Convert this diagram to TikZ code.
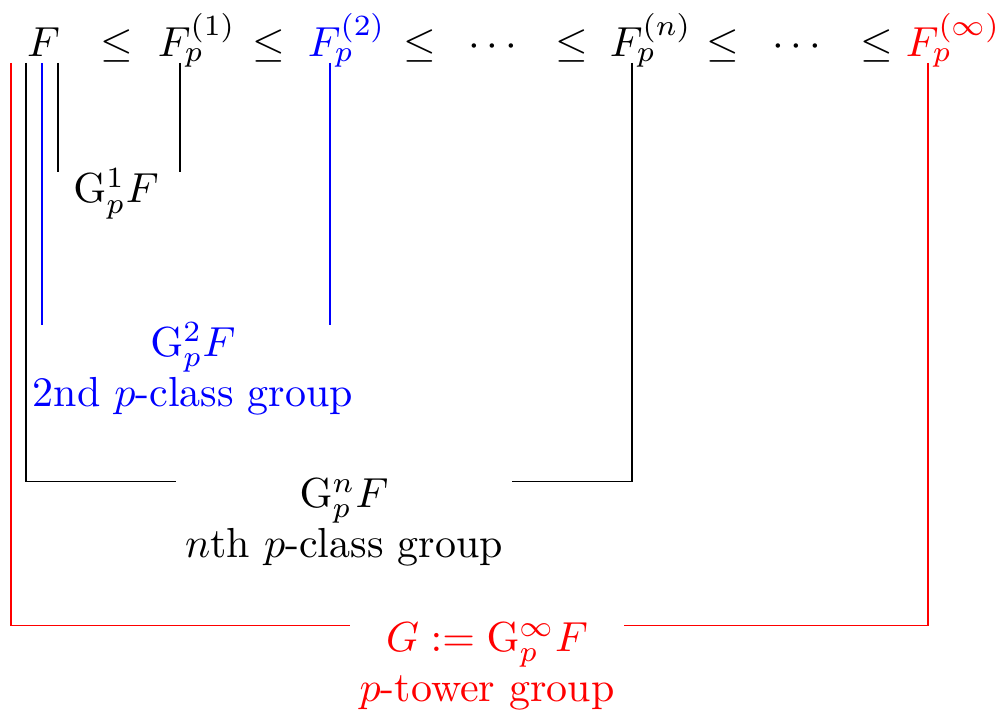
\documentclass[tikz,border=0pt]{standalone}
\usepackage{amsmath}
\usepackage{amssymb}
\usepackage{xcolor}
\usepackage{tikz}
\usetikzlibrary{positioning, calc}

\begin{document}
\begin{tikzpicture}[
  term/.style={anchor=base west, inner sep=0pt},
  rel/.style={anchor=base, inner sep=0pt},
  grouplabel/.style={anchor=base, align=center, inner sep=2pt},
  link/.style={thin}
]
\useasboundingbox (0,0) rectangle (8.327,5.984);

%% Tower of fields
\node[term] (F) at (0.22,5.507) {$F$};
\node[rel] (r1) at (0.979,5.507) {$\le$};
\node[term] (F1) at (1.314,5.507) {$F_p^{(1)}$};
\node[rel] (r2) at (2.251,5.507) {$\le$};
\node[term, blue] (F2) at (2.569,5.507) {$F_p^{(2)}$};
\node[rel] (r3) at (3.515,5.507) {$\le$};
\node[rel] (d1) at (4.151,5.507) {$\cdots$};
\node[rel] (r4) at (4.787,5.507) {$\le$};
\node[term] (Fn) at (5.097,5.507) {$F_p^{(n)}$};
\node[rel] (r5) at (6.051,5.507) {$\le$};
\node[rel] (d2) at (6.695,5.507) {$\cdots$};
\node[rel] (r6) at (7.340,5.507) {$\le$};
\node[term, red] (Finf) at (7.574,5.507) {$F_p^{(\infty)}$};

%% Galois groups (base = last line)
\node[grouplabel] (G1) at (0.971,4.285) {$\mathrm{G}_p^1F$};
\node[grouplabel, blue] (G2) at (1.615,2.578) {$\mathrm{G}_p^2F$\\2nd $p$-class group};
\node[grouplabel] (Gn) at (2.879,1.314) {$\mathrm{G}_p^nF$\\$n$th $p$-class group};
\node[grouplabel, red] (Ginf) at (4.076,0.109) {$G:=\mathrm{G}_p^\infty F$\\$p$-tower group};

%% Feet of the brackets
\foreach \name/\dx in {a/-0.126, b/0, c/0.132, d/0.265}
  \coordinate (F\name) at ([xshift=\dx cm, yshift=-0.05cm]F.base west);
\foreach \k in {F1, F2, Fn, Finf}
  \coordinate (\k-s) at ([xshift=0.19cm, yshift=-0.05cm]\k.base west);
\foreach \g in {G1, G2, Gn, Ginf}
  \coordinate (\g-top) at ([yshift=-0.1cm]\g.north);

%% Brackets
\draw[link] (Fd) -- (Fd |- G1-top);
\draw[link] (F1-s) -- (F1-s |- G1-top);
\draw[link, blue] (Fc) -- (Fc |- G2-top);
\draw[link, blue] (F2-s) -- (F2-s |- G2-top);
\draw[link] (Fb) |- (Gn.west |- Gn-top);
\draw[link] (Fn-s) |- (Gn.east |- Gn-top);
\draw[link, red] (Fa) |- (Ginf.west |- Ginf-top);
\draw[link, red] (Finf-s) |- (Ginf.east |- Ginf-top);
\end{tikzpicture}
\end{document}
